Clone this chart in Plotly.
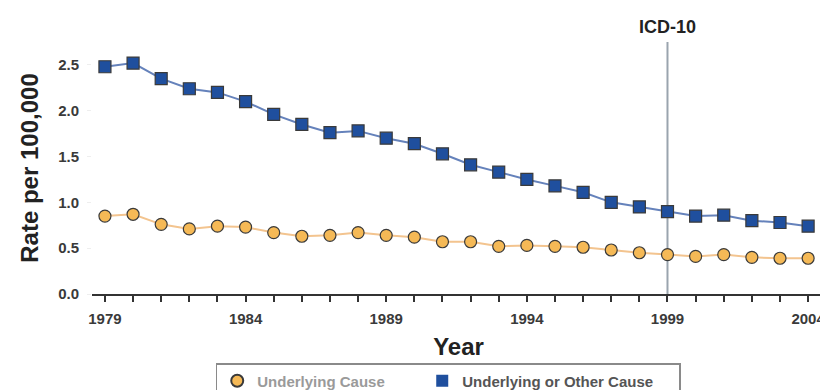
import plotly.graph_objects as go

years = list(range(1979, 2005))
underlying = [0.85, 0.87, 0.76, 0.71, 0.74, 0.73, 0.67, 0.63, 0.64, 0.67, 0.64, 0.62,
              0.57, 0.57, 0.52, 0.53, 0.52, 0.51, 0.48, 0.45, 0.43, 0.41, 0.43, 0.40, 0.39, 0.39]
underlying_other = [2.48, 2.52, 2.35, 2.24, 2.20, 2.10, 1.96, 1.85, 1.76, 1.78, 1.70, 1.64,
                    1.53, 1.41, 1.33, 1.25, 1.18, 1.11, 1.00, 0.95, 0.90, 0.85, 0.86, 0.80, 0.78, 0.74]
x_ticks = [1979, 1984, 1989, 1994, 1999, 2004]
y_ticks = [0.0, 0.5, 1.0, 1.5, 2.0, 2.5]
icd_year = 1999
icd_label = "ICD-10"

FONT = "Liberation Sans, Arial, sans-serif"
ORANGE = "#f5b956"
BLUE = "#1f4f9e"
OUTLINE = "#3a3a3a"

fig = go.Figure()
fig.add_trace(go.Scatter(
    x=years, y=underlying, mode="lines+markers", showlegend=False,
    line=dict(color="#f3c48f", width=2),
    marker=dict(symbol="circle", size=12, color=ORANGE, line=dict(color=OUTLINE, width=1.2)),
))
fig.add_trace(go.Scatter(
    x=years, y=underlying_other, mode="lines+markers", showlegend=False,
    line=dict(color="#6582bb", width=2),
    marker=dict(symbol="square", size=12, color=BLUE, line=dict(color=OUTLINE, width=1.2)),
))
# legend-only entries
fig.add_trace(go.Scatter(
    x=[None], y=[None], mode="markers", legendwidth=160,
    name="<b><span style='color:#9a9a9a'>Underlying Cause</span></b>",
    marker=dict(symbol="circle", size=11, color=ORANGE, line=dict(color=OUTLINE, width=1.2)),
))
fig.add_trace(go.Scatter(
    x=[None], y=[None], mode="markers", legendwidth=212,
    name="<b><span style='color:#555555'>Underlying or Other Cause</span></b>",
    marker=dict(symbol="square", size=11, color=BLUE, line=dict(color=OUTLINE, width=0)),
))

fig.add_shape(type="line", x0=icd_year, x1=icd_year, y0=0, y1=2.75, xref="x", yref="y",
              line=dict(color="#9aa4ae", width=2), layer="below")
fig.add_annotation(x=icd_year, y=1.06, xref="x", yref="paper", text="<b>" + icd_label + "</b>",
                   showarrow=False, font=dict(family=FONT, size=18, color="#222222"),
                   xanchor="center", yanchor="middle")

fig.update_layout(
    width=820, height=382,
    margin=dict(l=84, r=3, t=34, b=96, autoexpand=False),
    paper_bgcolor="white", plot_bgcolor="white",
    font=dict(family=FONT, color="#333333"),
    legend=dict(
        orientation="h", x=0.486, xanchor="center", y=-0.274, yanchor="top",
        bordercolor="#8a8a8a", borderwidth=1.5, font=dict(family=FONT, size=15),
        itemsizing="constant",
    ),
    xaxis=dict(
        automargin=False,
        range=[1978.54, 2004.6], tickmode="array", tickvals=years,
        ticktext=[f"<b>{y}</b>" if y in x_ticks else "" for y in years],
        showgrid=False, zeroline=False, showline=True, linecolor="#333333", linewidth=2,
        ticks="outside", ticklen=6, tickwidth=2, tickcolor="#333333",
        tickfont=dict(family=FONT, size=15, color="#3a3a3a"), ticklabelstandoff=4,
        title=dict(text="<b>Year</b>", font=dict(family=FONT, size=24, color="#222222"), standoff=12),
    ),
    yaxis=dict(
        automargin=False,
        range=[0, 2.75], tickmode="array", tickvals=y_ticks,
        ticktext=[f"<b>{v:.1f}</b>" for v in y_ticks],
        showgrid=False, zeroline=False, showline=False,
        ticks="outside", ticklen=4, tickwidth=1, tickcolor="#eeeeee",
        tickfont=dict(family=FONT, size=15, color="#3a3a3a"), ticklabelstandoff=5,
        title=dict(text="<b>Rate per 100,000</b>", font=dict(family=FONT, size=24, color="#222222"), standoff=12),
    ),
)

fig.write_html("out.html")
